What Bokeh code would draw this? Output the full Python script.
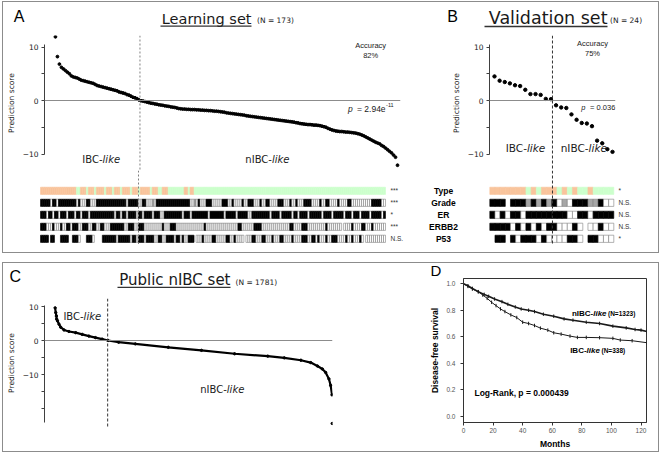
import math
from bokeh.plotting import figure
from bokeh.models import (Range1d, FixedTicker, Span, Label, ColumnDataSource,
                          BoxAnnotation, NumeralTickFormatter, Spacer)
from bokeh.layouts import row, column
from bokeh.embed import file_html
from bokeh.resources import INLINE

# ---------------- data ----------------
learning_scores = [
    11.9, 8.2, 6.8, 6.2, 5.9, 5.6, 5.3, 5.0, 4.6, 4.4,
    4.3, 4.2, 4.0, 3.8, 3.7, 3.6, 3.5, 3.4, 3.3, 3.2,
    3.0, 2.8, 2.7, 2.6, 2.5, 2.4, 2.3, 2.2, 2.1, 2.0,
    1.9, 1.8, 1.6, 1.5, 1.4, 1.3, 1.1, 1.0, 0.8, 0.6,
    0.5, 0.35, 0.1, -0.05, -0.1, -0.2, -0.3, -0.4, -0.5, -0.55,
    -0.65, -0.7, -0.8, -0.85, -0.9, -1.0, -1.05, -1.1, -1.2, -1.25,
    -1.3, -1.4, -1.5, -1.55, -1.6, -1.6, -1.65, -1.65, -1.7, -1.7,
    -1.7, -1.75, -1.75, -1.8, -1.8, -1.85, -1.85, -1.9, -1.9, -1.95,
    -2.0, -2.0, -2.05, -2.1, -2.15, -2.2, -2.3, -2.35, -2.4, -2.45,
    -2.5, -2.55, -2.6, -2.65, -2.7, -2.75, -2.85, -2.9, -2.95, -3.0,
    -3.05, -3.1, -3.15, -3.2, -3.25, -3.3, -3.35, -3.4, -3.45, -3.5,
    -3.55, -3.6, -3.65, -3.7, -3.75, -3.8, -3.85, -3.9, -3.95, -4.0,
    -4.05, -4.15, -4.2, -4.3, -4.35, -4.4, -4.45, -4.5, -4.5, -4.55,
    -4.6, -4.6, -4.65, -4.7, -4.8, -4.9, -5.0, -5.2, -5.35, -5.5,
    -5.6, -5.7, -5.75, -5.8, -5.8, -5.85, -5.9, -5.9, -5.95, -6.0,
    -6.05, -6.1, -6.2, -6.3, -6.45, -6.6, -6.8, -7.0, -7.2, -7.4,
    -7.6, -7.8, -7.95, -8.1, -8.4, -8.6, -8.9, -9.2, -9.5, -9.8,
    -10.2, -10.6, -12.1,
]
validation_scores = [4.5, 3.7, 3.45, 3.2, 2.85, 2.7, 2.0, 1.2, 1.2, 1.05, 0.3, 0.25,
                     -0.9, -1.3, -1.4, -2.6, -3.6, -4.2, -4.3, -4.8, -7.5, -8.0, -9.1, -9.6]

public_rank = [1, 5, 9, 11, 16, 26, 37, 58, 90, 133, 175, 218, 260, 303, 341, 409, 516,
               728, 941, 1154, 1367, 1473, 1580, 1643, 1686, 1718, 1739, 1760, 1771, 1780, 1781]
public_score = [9.6, 8.2, 7.2, 6.3, 5.8, 4.8, 3.9, 3.1, 2.65, 2.3, 1.8, 1.3, 0.85, 0.4, 0.0,
                -0.5, -1.0, -2.0, -2.9, -3.9, -4.6, -5.1, -5.8, -6.5, -7.5, -8.4, -9.4,
                -11.3, -13.2, -16.0, -24.4]
public_n = 1781
public_ibc_n = 338

row_names = ["Type", "Grade", "ER", "ERBB2", "P53"]
learning_stars = ["***", "***", "*", "***", "N.S."]
validation_stars = ["*", "N.S.", "N.S.", "N.S.", "*"]

# I = IBC (orange), N = nIBC (green), B = black, W = white, G = grey, . = missing
learning_type = ("IIIIIIIIII IIIIIIIINN IIINIIINII IINIIINIII NIIIINIIIN IIIIINIIIN NIIINNNNNN "
                 "NNIINIINNN NNNNNNNNNN NNNNNNNNNN NNNNNNNNNN NNNNNNNNNN NNNNNNNNNN NNNNNNNNNN "
                 "NNNNNNNNNN NNNNNNNNNN NNNNNNNNNN NNN")
learning_grade = ("BBBBBWBBWB BBBBBBBBWB WWWBBWWWBB BBBBBBBBBB BBBWBBBBBW WBBWWWGWBB BBBBBBBBBB "
                  "BBBBBWWGWB WWWBBBWWWW WBBBWWBWWW WBWWBBBWWW BWWBBWWWWB BBWWWBWWBW WWBBBBWWWW "
                  "BWWBBWWWWB WWWWBBWWWW WWWWWWBBBB BWW")
learning_er = ("BBBWBBWBBW BBBWBBBWBB WBBBWBBBBB BBBBBBBWBB WBBWBBBBWB BWBBBBWBBB WWBBBBBBBB "
               "BWBBBWBBBB BBBBWBBBBB BBWBBBBBWB BBBBWWBBBB BBBBBWBBBB WBBBBBWBBW BBBBWBBBBB "
               "BWBBBBWBBB BBWBBBWBBB WBBBBWBBBB BWB")
learning_erbb2 = ("BBBWWWBWWW BWWBBWBBBW WBBBWWBBWW BBWWWBBBBB BBWWBBBWWB BBWWWWWWWW WBWWWBBBWW "
                  "WWWWWWWWWW WWBWWWWWWW WWWWWWWWWB BWWWWWWBBB BWWWWWWWWW WWWWWBBWWW WBBBWWWWWW "
                  "WWWBWWWWWW W.WWWWBWWW WBBWWWBWWW WWW")
learning_p53 = ("BBBB.BB... BBBB..BBBW ...BBBW... .BBBBBBBWB BBBBBWBBWB BBWBBBBWWB BWWBBBBWBB "
                "WBWWBBB.WW WBWWWWBBWW WWWBBWWBWW WW.WWWBBWW WBBWWWBWWW BBWWWWBWWW WBBBWWBBWB "
                "WWWBWWBBBW WWWBWWBWWW BW.WWWWWWW WWW")
validation_type = "IIIIIII N I N III N I N I NN I NNNN"
validation_grade = "BBB.BBB G B G B G B W G W BBB GG B WW"
validation_er = "BWBWBBW BBBBBBBB WW BB W BBBB"
validation_erbb2 = "BBBB W B W B W B W BB WWW B W . WW B WW"
validation_p53 = ". BB . B W BBB W B WWWW BB W . BB WWW"

km_nibc_months = [0, 3, 6, 10, 14, 17, 21, 26, 30, 35, 39, 44, 48, 54, 61, 68, 74, 83, 92,
                  101, 110, 116, 120, 124]
km_nibc_surv = [1.0, 0.985, 0.965, 0.94, 0.92, 0.905, 0.885, 0.865, 0.845, 0.825, 0.81, 0.8,
                0.79, 0.77, 0.755, 0.735, 0.725, 0.71, 0.70, 0.68, 0.667, 0.655, 0.65, 0.64]
km_ibc_months = [0, 3, 6, 10, 13, 16, 19, 22, 25, 28, 32, 36, 40, 44, 48, 52, 57, 61, 66, 72,
                 77, 83, 92, 101, 106, 114, 124]
km_ibc_surv = [1.0, 0.98, 0.96, 0.94, 0.915, 0.89, 0.86, 0.835, 0.81, 0.79, 0.765, 0.745,
               0.71, 0.70, 0.685, 0.665, 0.65, 0.63, 0.62, 0.605, 0.595, 0.595, 0.593, 0.588,
               0.575, 0.57, 0.555]
km_x_ticks = [0, 20, 40, 60, 80, 100, 120]
km_y_ticks = [0.0, 0.2, 0.4, 0.6, 0.8, 1.0]
score_ticks = [-10, 0, 10]

# ---------------- styles ----------------
CELL_FILL = {"I": "#F9C49C", "N": "#CCFFCC", "B": "#000000", "W": "#FFFFFF", "G": "#A6A6A6"}
CELL_LINE = {"I": "#F9C49C", "N": "#CCFFCC", "B": "#000000", "W": "#808080", "G": "#808080"}
TXT = "#1a1a1a"
AX = "#404040"


def codes(s):
    return s.replace(" ", "")


def xr(v0, p0, v1, p1, left, right):
    k = (v1 - v0) / (p1 - p0)
    return Range1d(v0 + (left - p0) * k, v0 + (right - p0) * k)


def yr(v0, p0, v1, p1, top, bottom):
    k = (v1 - v0) / (p1 - p0)
    return Range1d(v0 + (bottom - p0) * k, v0 + (top - p0) * k)


def add_label(p, text, x, y, size, font="DejaVu Sans", style="normal", align="left",
              color=TXT, xrn="default", yrn="default"):
    p.add_layout(Label(x=x, y=y, text=text, text_font=font,
                       text_font_size=f"{size}px", text_font_style=style, text_align=align,
                       text_baseline="middle", text_color=color,
                       x_range_name=xrn, y_range_name=yrn))


def underline(p, left, right, y, th=1.3):
    p.add_layout(BoxAnnotation(left=left, right=right, top=y, bottom=y + th,
                               fill_color="#333333", fill_alpha=1.0, line_color=None))


def base_fig(w, h, xrange, yrange, lb=0, rb=0, tb=0, bb=0, yaxis=False):
    p = figure(width=w, height=h, x_range=xrange, y_range=yrange, min_border_left=lb,
               min_border_right=rb, min_border_top=tb, min_border_bottom=bb,
               x_axis_location=None, y_axis_location=("left" if yaxis else None),
               output_backend="svg", toolbar_location=None, title=None)
    p.grid.visible = False
    p.outline_line_color = None
    p.background_fill_color = "white"
    p.border_fill_color = "white"
    return p


def style_score_axis(p, minor, bounds):
    ax = p.yaxis[0]
    ax.ticker = FixedTicker(ticks=score_ticks, minor_ticks=minor)
    ax.bounds = bounds
    ax.axis_line_color = AX
    ax.major_tick_line_color = AX
    ax.minor_tick_line_color = AX
    ax.major_tick_in = 0
    ax.major_tick_out = 3
    ax.minor_tick_in = 0
    ax.minor_tick_out = 3
    ax.major_label_text_font = "DejaVu Sans"
    ax.major_label_text_font_size = "7.5px"
    ax.major_label_text_color = TXT
    ax.major_label_standoff = 3
    ax.axis_label = "Prediction score"
    ax.axis_label_text_font = "DejaVu Sans"
    ax.axis_label_text_font_size = "7.5px"
    ax.axis_label_text_font_style = "normal"
    ax.axis_label_text_color = TXT
    ax.axis_label_standoff = 4


def add_cells(p, rows, xname):
    xs, ys, fills, lines = [], [], [], []
    for r, s in enumerate(rows):
        for i, c in enumerate(codes(s)):
            if c == ".":
                continue
            xs.append(i + 0.5)
            ys.append(r)
            fills.append(CELL_FILL[c])
            lines.append(CELL_LINE[c])
    src = ColumnDataSource(dict(x=xs, y=ys, fill=fills, line=lines))
    p.rect(x="x", y="y", width=1, height=0.6, source=src, fill_color="fill",
           line_color="line", line_width=0.6, x_range_name=xname)


def split_label(p, left_text, right_text, x, y, size):
    add_label(p, left_text, x, y, size, align="right")
    add_label(p, right_text, x, y, size, style="italic")


learn_rows = [learning_type, learning_grade, learning_er, learning_erbb2, learning_p53]
for s in learn_rows:
    assert len(codes(s)) == len(learning_scores), (s, len(codes(s)))
val_rows = [validation_type, validation_grade, validation_er, validation_erbb2, validation_p53]
for s in val_rows:
    assert len(codes(s)) == len(validation_scores), (s, len(codes(s)))

n_learn_ibc = sum(1 for v in learning_scores if v > 0)
n_val_ibc = sum(1 for v in validation_scores if v > 0)

# ---------------- top box: titles ----------------
tTop = base_fig(655, 33, Range1d(3, 658), Range1d(35, 2))
add_label(tTop, "A", 13.3, 16.0, 16, font="Liberation Sans", color="black")
add_label(tTop, "Learning set", 251, 18.0, 14.5, align="right")
underline(tTop, 160, 251, 25.0)
add_label(tTop, "(N = 173)", 256.5, 20.2, 7.5)
add_label(tTop, "B", 446.7, 16.0, 16, font="Liberation Sans", color="black")
add_label(tTop, "Validation set", 607, 17.4, 17.5, align="right")
underline(tTop, 484, 607, 25.3, 1.4)
add_label(tTop, "(N = 24)", 609.5, 20.2, 7.5)

# ---------------- Panel A scatter ----------------
pA = base_fig(412, 135, xr(1, 53, 173, 397, 42, 400), yr(0, 100, 10, 46.5, 35, 170),
              lb=39, rb=15, yaxis=True)
style_score_axis(pA, [-5, 5], (-10, 10.5))
pA.add_layout(Span(location=0, dimension="width", line_color="#8c8c8c", line_width=1))
pA.add_layout(Span(location=n_learn_ibc + 0.5, dimension="height", line_color="#808080",
                   line_width=1, line_dash="2 2"))
pA.scatter(list(range(1, len(learning_scores) + 1)), learning_scores, size=2.8,
           color="black")
add_label(pA, "Accuracy", 159.5, 10.28, 7.5, font="Liberation Sans", align="center")
add_label(pA, "82%", 159.5, 8.41, 7.5, font="Liberation Sans", align="center")
add_label(pA, "p", 150.5, -1.5, 8.5, font="Liberation Sans", style="italic", align="right")
add_label(pA, "= 2.94e", 167.0, -1.5, 8.5, font="Liberation Sans", align="right")
add_label(pA, "-11", 167.25, -0.75, 5.5, font="Liberation Sans")
split_label(pA, "IBC-", "like", 24.7, -11.03, 10)
split_label(pA, "nIBC-", "like", 109.85, -11.03, 10)

# ---------------- Panel B scatter ----------------
pB = base_fig(243, 135, xr(1, 494, 24, 612, 489, 615), yr(0, 100, 10, 46.5, 35, 170),
              lb=74, rb=43, yaxis=True)
style_score_axis(pB, [-5, 5], (-10, 10.5))
pB.add_layout(Span(location=0, dimension="width", line_color="#8c8c8c", line_width=1))
pB.add_layout(Span(location=n_val_ibc + 0.3, dimension="height", line_color="#333333",
                   line_width=1, line_dash="3 2"))
pB.scatter(list(range(1, len(validation_scores) + 1)), validation_scores, size=3.4,
           color="black")
add_label(pB, "Accuracy", 20.1, 10.65, 7.5, font="Liberation Sans", align="center")
add_label(pB, "75%", 20.1, 8.79, 7.5, font="Liberation Sans", align="center")
add_label(pB, "p", 18.74, -1.3, 7.5, font="Liberation Sans", style="italic", align="right")
add_label(pB, "= 0.036", 24.55, -1.3, 7.5, font="Liberation Sans", align="right")
split_label(pB, "IBC-", "like", 7.32, -8.97, 10.5)
split_label(pB, "nIBC-", "like", 19.34, -8.97, 10.5)

# ---------------- bars (both panels) ----------------
bars = base_fig(655, 74, Range1d(3, 658), yr(0, 190.3, 1, 202.3, 170, 244))
bars.extra_x_ranges = {
    "cellsA": xr(0, 40, len(learning_scores), 385, 3, 658),
    "cellsB": xr(0, 489.3, len(validation_scores), 613.3, 3, 658),
    "idxA": xr(1, 53, 173, 397, 3, 658),
    "idxB": xr(1, 494, 24, 612, 3, 658),
}
add_cells(bars, learn_rows, "cellsA")
add_cells(bars, val_rows, "cellsB")
bars.add_layout(Span(location=n_learn_ibc + 0.5, dimension="height", line_color="#808080",
                     line_width=1, line_dash="2 2", x_range_name="idxA"))
bars.add_layout(Span(location=n_val_ibc + 0.3, dimension="height", line_color="#333333",
                     line_width=1, line_dash="3 2", x_range_name="idxB"))
for r, st in enumerate(learning_stars):
    add_label(bars, st, len(learning_scores) + 2.5, r, 6.5, font="Liberation Sans",
              xrn="cellsA", color="#333333")
for r, st in enumerate(validation_stars):
    add_label(bars, st, len(validation_scores) + 0.9, r, 6.5, font="Liberation Sans",
              xrn="cellsB", color="#333333")
for r, name in enumerate(row_names):
    add_label(bars, name, 443, r, 8.5, font="Liberation Sans", style="bold", align="center",
              color="black")

# ---------------- Panel C ----------------
tC = base_fig(412, 35, Range1d(3, 415), Range1d(298, 263))
add_label(tC, "C", 9, 275.5, 16, font="Liberation Sans", color="black")
add_label(tC, "Public nIBC set", 230, 279.3, 15, align="right")
underline(tC, 117, 230, 286.3)
add_label(tC, "(N = 1781)", 235, 281.9, 7.5)

pC = base_fig(412, 153, xr(1, 52.7, public_n, 331.7, 42, 332), yr(0, 340, 10, 306, 298, 427),
              lb=39, rb=83, bb=24, yaxis=True)
style_score_axis(pC, [-20, -15, -5, 5], (-24, 10.3))
pC.add_layout(Span(location=0, dimension="width", line_color="#8c8c8c", line_width=1))
pC.add_layout(Span(location=public_ibc_n + 0.5, dimension="height", line_color="#333333",
                   line_width=1, line_dash="3 2"))
pC.line(public_rank[:-1], public_score[:-1], line_width=2.2, color="black")
pC.scatter(public_rank, public_score, size=2.4, color="black")
split_label(pC, "IBC-", "like", 184, 7.11, 10)
split_label(pC, "nIBC-", "like", 1104, -14.5, 10)

# ---------------- Panel D ----------------
tD = base_fig(243, 15, Range1d(415, 658), Range1d(278, 263))
add_label(tD, "D", 430, 270.3, 15, font="Liberation Sans", color="black")

pD = figure(width=243, height=173, x_range=xr(0, 463, 120, 640.5, 463, 646),
            y_range=yr(0, 416.7, 1, 283.3, 278, 423), min_border_left=48,
            min_border_right=12, min_border_top=0, min_border_bottom=28,
            output_backend="svg", toolbar_location=None, title=None)
pD.grid.visible = False
pD.outline_line_color = "#333333"
pD.outline_line_width = 1
for ax, ticks in ((pD.xaxis[0], km_x_ticks), (pD.yaxis[0], km_y_ticks)):
    ax.ticker = FixedTicker(ticks=ticks)
    ax.axis_line_color = "#333333"
    ax.major_tick_line_color = "#333333"
    ax.minor_tick_line_color = None
    ax.major_tick_in = 0
    ax.major_tick_out = 3
    ax.major_label_text_font = "Liberation Sans"
    ax.major_label_text_font_size = "6.5px"
    ax.major_label_text_color = "#555555"
    ax.axis_label_text_font = "Liberation Sans"
    ax.axis_label_text_font_style = "bold"
    ax.axis_label_text_color = "black"
pD.yaxis[0].formatter = NumeralTickFormatter(format="0.0")
pD.xaxis[0].major_label_standoff = 2
pD.yaxis[0].major_label_standoff = 5
pD.xaxis[0].axis_label = "Months"
pD.xaxis[0].axis_label_text_font_size = "8.5px"
pD.xaxis[0].axis_label_standoff = 3
pD.yaxis[0].axis_label = "Disease-free survival"
pD.yaxis[0].axis_label_text_font_size = "8.5px"
pD.yaxis[0].axis_label_standoff = 3
pD.line(km_nibc_months, km_nibc_surv, line_width=1.6, color="#1a1a1a")
pD.line(km_ibc_months, km_ibc_surv, line_width=1.0, color="#1a1a1a")
pD.scatter(km_nibc_months, km_nibc_surv, marker="dash", angle=math.pi / 2, size=3.5,
           color="#1a1a1a")
pD.scatter(km_ibc_months, km_ibc_surv, marker="dash", angle=math.pi / 2, size=3.5,
           color="#1a1a1a")
add_label(pD, "nIBC-", 87.7, 0.775, 8, font="Liberation Sans", style="bold", align="right",
          color="black")
add_label(pD, "like", 87.7, 0.775, 8, font="Liberation Sans", style="bold italic",
          color="black")
add_label(pD, "(N=1323)", 97.7, 0.775, 6.5, font="Liberation Sans", style="bold",
          color="black")
add_label(pD, "IBC-", 83.2, 0.495, 8, font="Liberation Sans", style="bold", align="right",
          color="black")
add_label(pD, "like", 83.2, 0.495, 8, font="Liberation Sans", style="bold italic",
          color="black")
add_label(pD, "(N=338)", 93.3, 0.495, 6.5, font="Liberation Sans", style="bold",
          color="black")
add_label(pD, "Log-Rank, p = 0.000439", 7.4, 0.175, 8.5, font="Liberation Sans",
          style="bold", color="black")

# ---------------- layout ----------------
box_style = {"border": "1px solid #8c8c8c"}
top = column(tTop, row(pA, pB, spacing=0), bars, Spacer(width=655, height=8),
             spacing=0, styles=box_style)
colC = column(row(tC, spacing=0), row(pC, spacing=0), spacing=0)
colD = column(row(tD, spacing=0), row(pD, spacing=0), spacing=0)
bottom = row(colC, colD, spacing=0, styles=box_style)
inner = column(Spacer(width=657, height=1), top, Spacer(width=657, height=9), bottom,
               spacing=0)
layout = row(Spacer(width=2, height=452), inner, spacing=0)

open("out.html", "w").write(file_html(layout, INLINE))
